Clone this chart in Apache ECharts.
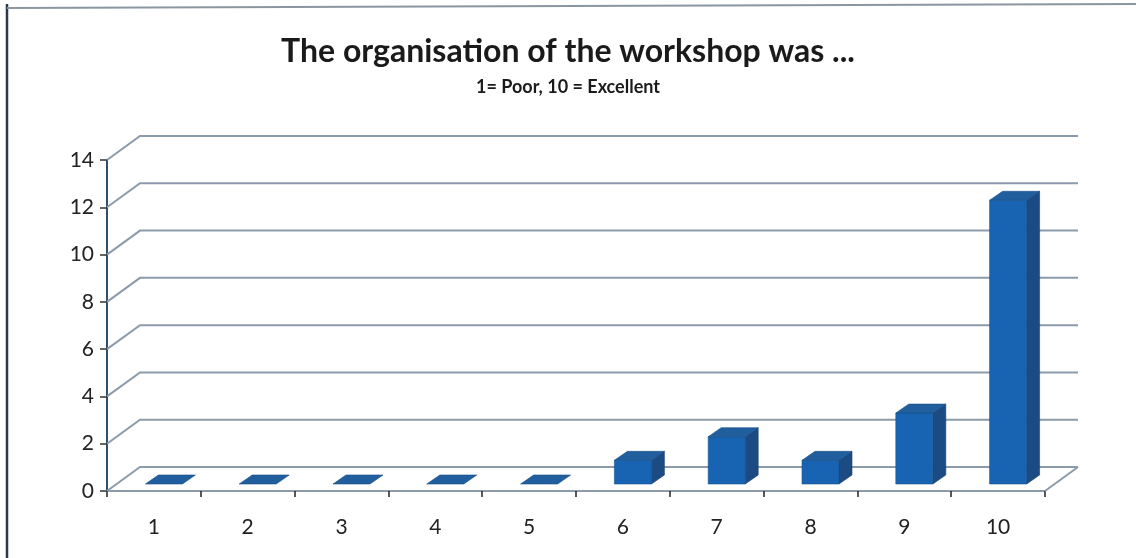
<!DOCTYPE html>
<html lang="en">
<head>
    <meta charset="UTF-8">
    <title>Workshop organisation</title>
    <script src="https://cdn.jsdelivr.net/npm/echarts@6/dist/echarts.min.js"></script>
    <style>
        html, body { margin: 0; padding: 0; background: #fff; }
    </style>
</head>
<body>
    <div id="main" style="width:1136px;height:558px"></div>
    <script type="text/javascript">
       // data
       var categories = ['1', '2', '3', '4', '5', '6', '7', '8', '9', '10'];
       var counts = [0, 0, 0, 0, 0, 1, 2, 1, 3, 12];
       var yTicks = [0, 2, 4, 6, 8, 10, 12, 14];

       var chart = echarts.init(document.getElementById('main'));

       // pseudo 3d offsets (px)
       var WALL_DX = 33, WALL_DY = -24;   // depth of the back wall
       var BAR_DX = 13, BAR_DY = -9;      // depth of a bar
       var BAR_OFF_X = 10, BAR_OFF_Y = -7; // bar sits a bit behind the front plane
       var BAR_W = 37;
       var gridColor = '#8c9bab';

       function wallItem(params, api) {
           var v = api.value(0);
           var p0 = api.coord([0, v]);
           var p1 = api.coord([categories.length, v]);
           var pts = [p0, [p0[0] + WALL_DX, p0[1] + WALL_DY], [p1[0] + WALL_DX, p1[1] + WALL_DY]];
           var children = [{
               type: 'polyline',
               shape: { points: pts },
               style: { stroke: gridColor, lineWidth: 2, fill: null }
           }];
           if (v === 0) {
               // right edge of the floor
               children.push({
                   type: 'line',
                   shape: { x1: p1[0], y1: p1[1], x2: p1[0] + WALL_DX, y2: p1[1] + WALL_DY },
                   style: { stroke: gridColor, lineWidth: 2 }
               });
           }
           return { type: 'group', children: children };
       }

       function barItem(params, api) {
           var idx = api.value(0);
           var val = api.value(1);
           var b = api.coord([idx, 0]);
           var t = api.coord([idx, val]);
           var cx = b[0] + BAR_OFF_X;
           var x0 = cx - BAR_W / 2, x1 = cx + BAR_W / 2;
           var yb = b[1] + BAR_OFF_Y, yt = t[1] + BAR_OFF_Y;
           var children = [];
           if (val > 0) {
               children.push({
                   type: 'polygon',
                   shape: { points: [[x1, yt], [x1 + BAR_DX, yt + BAR_DY], [x1 + BAR_DX, yb + BAR_DY], [x1, yb]] },
                   style: { fill: '#1c4a82', stroke: '#173e6e', lineWidth: 0.6 }
               });
               children.push({
                   type: 'rect',
                   shape: { x: x0, y: yt, width: BAR_W, height: yb - yt },
                   style: { fill: '#1864b2', stroke: '#16548f', lineWidth: 0.6 }
               });
           }
           children.push({
               type: 'polygon',
               shape: { points: [[x0, yt], [x0 + BAR_DX, yt + BAR_DY], [x1 + BAR_DX, yt + BAR_DY], [x1, yt]] },
               style: { fill: '#215e9e', stroke: '#1a4f86', lineWidth: 0.6 }
           });
           return { type: 'group', children: children };
       }

       var option = {
           backgroundColor: '#fff',
           animation: false,
           title: {
               text: 'The organisation of the workshop was ...',
               subtext: '1= Poor, 10 = Excellent',
               left: 'center',
               top: 31,
               itemGap: 10,
               textStyle: { fontFamily: 'Lato', fontWeight: 'bold', fontSize: 32, color: '#1a1a1a' },
               subtextStyle: { fontFamily: 'Lato', fontWeight: 'bold', fontSize: 18, color: '#1a1a1a' }
           },
           graphic: [
               { type: 'line', shape: { x1: 7, y1: 4, x2: 7, y2: 558 }, style: { stroke: '#2b3a48', lineWidth: 2.5 } },
               { type: 'line', shape: { x1: 7, y1: 8, x2: 1136, y2: 4 }, style: { stroke: '#8a96a2', lineWidth: 2 } }
           ],
           grid: { left: 107, right: 91, top: 160, bottom: 67 },
           xAxis: [{
               type: 'category',
               data: categories,
               boundaryGap: true,
               axisLine: { lineStyle: { color: gridColor, width: 2 } },
               axisTick: { show: true, length: 6, lineStyle: { color: '#222', width: 1.5 } },
               axisLabel: { fontFamily: 'Lato', fontSize: 21, color: '#222', margin: 26 }
           }, {
               type: 'value',
               min: 0,
               max: categories.length,
               show: false
           }],
           yAxis: {
               type: 'value',
               min: 0,
               max: 14,
               interval: 2,
               axisLine: { show: true, lineStyle: { color: '#2f4f6f', width: 2 } },
               axisTick: { show: true, length: 7, lineStyle: { color: '#333', width: 1.5 } },
               axisLabel: { fontFamily: 'Lato', fontSize: 21, color: '#222', margin: 13 },
               splitLine: { show: false }
           },
           series: [{
               type: 'custom',
               name: 'walls',
               xAxisIndex: 1,
               renderItem: wallItem,
               data: yTicks.map(function (v) { return [v]; }),
               encode: { y: 0 },
               z: 1
           }, {
               type: 'custom',
               name: 'count',
               xAxisIndex: 0,
               renderItem: barItem,
               data: counts.map(function (v, i) { return [i, v]; }),
               encode: { x: 0, y: 1 },
               z: 3
           }]
       };
       chart.setOption(option);
    </script>
</body>
</html>
